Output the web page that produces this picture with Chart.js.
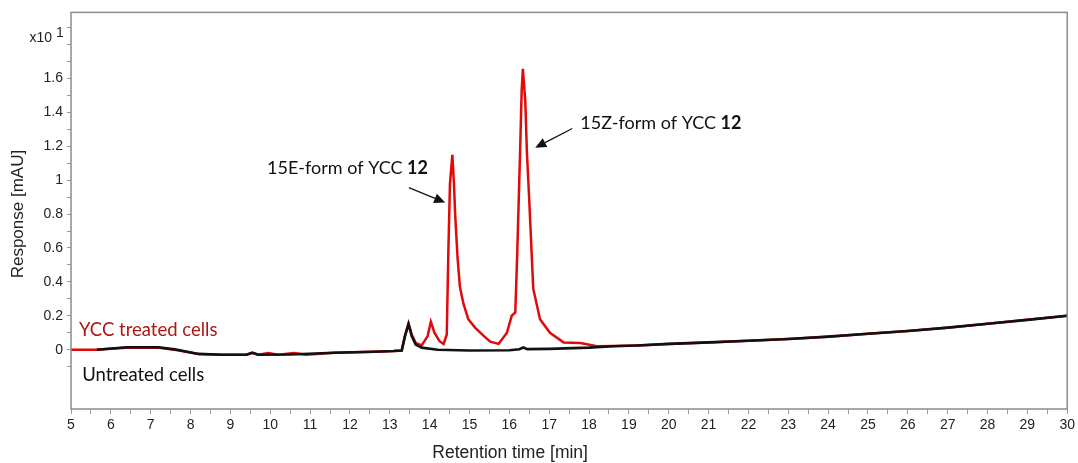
<!DOCTYPE html>
<html>
<head>
<meta charset="utf-8">
<script src="https://cdn.jsdelivr.net/npm/chart.js@4.4.1/dist/chart.umd.min.js"></script>
<style>
  body { margin: 0; background: #fff; }
  canvas { display: block; }
</style>
</head>
<body>
<canvas id="chromChart" width="1078" height="463"></canvas>
<script>
// retention times [min] and responses [x10 mAU]
var treatedTimes = [5.0, 5.6, 6.4, 7.2, 7.6, 8.2, 8.8, 9.4, 9.55, 9.7, 9.95, 10.2, 10.6, 10.9, 11.6, 12.6, 13.1, 13.3,
    13.38, 13.47, 13.55, 13.65, 13.8, 13.95, 14.03, 14.12, 14.25, 14.35, 14.43, 14.47, 14.51, 14.57, 14.61, 14.64,
    14.7, 14.76, 14.85, 14.97, 15.14, 15.35, 15.52, 15.73, 15.94, 16.06, 16.15, 16.2, 16.27, 16.31, 16.34, 16.4,
    16.44, 16.5, 16.6, 16.77, 17.02, 17.36, 17.78, 18.2, 18.6, 19.2, 20, 21, 22, 23, 24, 25, 26, 27, 28, 29, 30];
var treatedValues = [0, 0, 0.012, 0.012, 0.0, -0.025, -0.03, -0.03, -0.02, -0.03, -0.02, -0.03, -0.02, -0.03, -0.018, -0.012, -0.008, -0.005,
    0.08, 0.155, 0.09, 0.04, 0.025, 0.08, 0.165, 0.1, 0.05, 0.034, 0.09, 0.58, 0.98, 1.15, 0.98, 0.80,
    0.545, 0.37, 0.27, 0.18, 0.13, 0.083, 0.047, 0.034, 0.10, 0.20, 0.22, 0.58, 1.17, 1.53, 1.657, 1.47,
    1.17, 0.88, 0.36, 0.18, 0.10, 0.043, 0.04, 0.02, 0.022, 0.025, 0.034, 0.043, 0.053, 0.063, 0.077, 0.094, 0.11, 0.13, 0.153, 0.176, 0.2];

var untreatedTimes = [5.65, 6.4, 7.2, 7.6, 8.2, 8.8, 9.4, 9.55, 9.7, 10.5, 11.6, 12.6, 13.1, 13.3, 13.38, 13.47, 13.55,
    13.65, 13.8, 14.2, 15, 16, 16.25, 16.35, 16.45, 17, 18, 18.6, 19.2, 20, 21, 22, 23, 24, 25, 26, 27, 28, 29, 30];
var untreatedValues = [0, 0.014, 0.014, 0.002, -0.025, -0.03, -0.03, -0.017, -0.03, -0.028, -0.018, -0.012, -0.008, -0.005, 0.08, 0.15, 0.08,
    0.03, 0.012, 0.0, -0.005, -0.003, 0.003, 0.013, 0.003, 0.005, 0.012, 0.02, 0.025, 0.034, 0.043, 0.053, 0.063, 0.077, 0.094, 0.11, 0.13, 0.153, 0.176, 0.2];

var xTickValues = [];
for (var t = 5; t <= 30; t += 0.5) xTickValues.push(t);
var yTickValues = [-0.1, 0, 0.1, 0.2, 0.3, 0.4, 0.5, 0.6, 0.7, 0.8, 0.9, 1, 1.1, 1.2, 1.3, 1.4, 1.5, 1.6, 1.7, 1.8, 1.9];
var yLabelValues = [0, 0.2, 0.4, 0.6, 0.8, 1, 1.2, 1.4, 1.6];

// text notes, placed in data units [time, response]
var notes = [
    { text: '15E-form of YCC ', bold: '12', at: [9.92, 1.068], color: '#111', size: 18 },
    { text: '15Z-form of YCC ', bold: '12', at: [17.78, 1.334], color: '#111', size: 18 },
    { text: 'YCC treated cells', bold: '', at: [5.2, 0.118], color: '#b01515', size: 18.5 },
    { text: 'Untreated cells', bold: '', at: [5.28, -0.148], color: '#111', size: 18.5 }
];
var arrows = [
    { from: [13.48, 0.956], to: [14.39, 0.868] },
    { from: [17.58, 1.305], to: [16.65, 1.192] }
];

function toPoints(xs, ys) {
    var pts = [];
    for (var i = 0; i < xs.length; i++) pts.push({ x: xs[i], y: ys[i] });
    return pts;
}

var axisFamily = 'Liberation Sans, Arial, sans-serif';
var tickFont = { family: axisFamily, size: 14 };
var noteFont = 'Lato, "Open Sans", sans-serif';

var extras = {
    id: 'extras',
    afterDatasetsDraw: function (chart) {
        var ctx = chart.ctx, a = chart.chartArea;
        var xs = chart.scales.x, ys = chart.scales.y;
        ctx.save();
        // frame
        ctx.strokeStyle = '#8c8c8c';
        ctx.lineWidth = 1.5;
        ctx.strokeRect(a.left, a.top, a.right - a.left, a.bottom - a.top);

        // exponent label
        ctx.fillStyle = '#222';
        ctx.font = '14px ' + axisFamily;
        ctx.textBaseline = 'middle';
        ctx.textAlign = 'right';
        ctx.fillText('x10', a.left - 19, ys.getPixelForValue(1.84));
        ctx.textAlign = 'left';
        ctx.fillText('1', a.left - 15, ys.getPixelForValue(1.865));

        // axis titles
        ctx.font = '17.5px ' + axisFamily;
        ctx.textAlign = 'center';
        ctx.fillText('Retention time [min]', xs.getPixelForValue(16.02), a.bottom + 44);
        ctx.save();
        ctx.translate(a.left - 53, ys.getPixelForValue(0.8));
        ctx.rotate(-Math.PI / 2);
        ctx.font = '17px ' + axisFamily;
        ctx.fillText('Response [mAU]', 0, 0);
        ctx.restore();

        // notes
        notes.forEach(function (n) {
            var px = xs.getPixelForValue(n.at[0]), py = ys.getPixelForValue(n.at[1]);
            ctx.fillStyle = n.color;
            ctx.font = n.size + 'px ' + noteFont;
            ctx.textAlign = 'left';
            ctx.fillText(n.text, px, py);
            if (n.bold) {
                var w = ctx.measureText(n.text).width;
                ctx.font = 'bold ' + n.size + 'px ' + noteFont;
                ctx.fillText(n.bold, px + w, py);
            }
        });

        // arrows
        ctx.strokeStyle = '#111';
        ctx.fillStyle = '#111';
        ctx.lineWidth = 1.2;
        arrows.forEach(function (ar) {
            var x1 = xs.getPixelForValue(ar.from[0]), y1 = ys.getPixelForValue(ar.from[1]);
            var x2 = xs.getPixelForValue(ar.to[0]), y2 = ys.getPixelForValue(ar.to[1]);
            var ang = Math.atan2(y2 - y1, x2 - x1);
            var hl = 11, hw = 5;
            var bx = x2 - hl * Math.cos(ang), by = y2 - hl * Math.sin(ang);
            ctx.beginPath();
            ctx.moveTo(x1, y1);
            ctx.lineTo(bx, by);
            ctx.stroke();
            ctx.beginPath();
            ctx.moveTo(x2, y2);
            ctx.lineTo(bx + hw * Math.sin(ang), by - hw * Math.cos(ang));
            ctx.lineTo(bx - hw * Math.sin(ang), by + hw * Math.cos(ang));
            ctx.closePath();
            ctx.fill();
        });
        ctx.restore();
    }
};

new Chart(document.getElementById('chromChart'), {
    type: 'line',
    data: {
        datasets: [{
            label: 'Untreated cells',
            data: toPoints(untreatedTimes, untreatedValues),
            borderColor: '#111111',
            borderWidth: 2.6,
            pointRadius: 0,
            tension: 0,
            order: 1
        }, {
            label: 'YCC treated cells',
            data: toPoints(treatedTimes, treatedValues),
            borderColor: '#e00a0a',
            borderWidth: 2.5,
            pointRadius: 0,
            tension: 0,
            order: 2
        }]
    },
    options: {
        responsive: false,
        animation: false,
        layout: { padding: { top: 12, right: 10, left: 0, bottom: 0 } },
        plugins: {
            legend: { display: false },
            tooltip: { enabled: false }
        },
        scales: {
            x: {
                type: 'linear',
                min: 5,
                max: 30,
                afterBuildTicks: function (s) {
                    s.ticks = xTickValues.map(function (v) { return { value: v }; });
                },
                afterFit: function (s) { s.height = 54; },
                ticks: {
                    autoSkip: false,
                    maxRotation: 0,
                    padding: 3,
                    color: '#222',
                    font: tickFont,
                    callback: function (v) { return Number.isInteger(v) ? String(v) : ''; }
                },
                grid: { drawOnChartArea: false, tickLength: 5, color: '#9a9a9a' },
                border: { display: false }
            },
            y: {
                type: 'linear',
                min: -0.35,
                max: 1.99,
                afterBuildTicks: function (s) {
                    s.ticks = yTickValues.map(function (v) { return { value: v }; });
                },
                afterFit: function (s) { s.width = 71; },
                ticks: {
                    autoSkip: false,
                    padding: 4,
                    color: '#222',
                    font: tickFont,
                    callback: function (v) {
                        var r = Math.round(v * 10) / 10;
                        return yLabelValues.indexOf(r) >= 0 ? String(r) : '';
                    }
                },
                grid: { drawOnChartArea: false, tickLength: 4, color: '#9a9a9a' },
                border: { display: false }
            }
        }
    },
    plugins: [extras]
});
</script>
</body>
</html>
